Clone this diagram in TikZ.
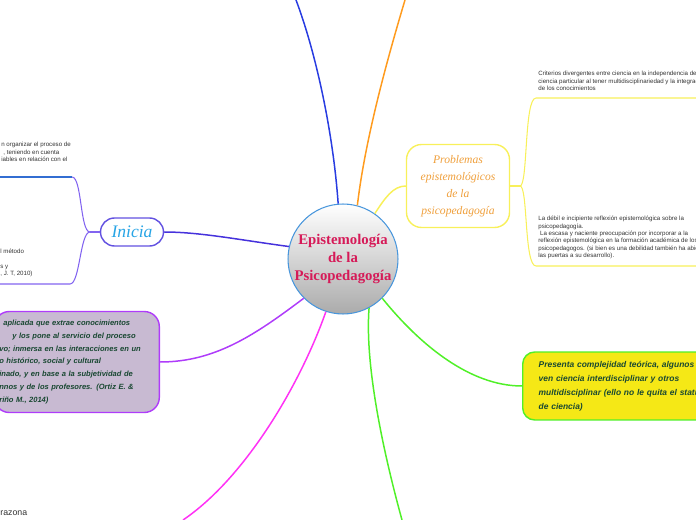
\documentclass[tikz,border=0pt]{standalone}
\usepackage{fontspec}
\setmainfont{Liberation Sans}
\newfontfamily\titlefont{Liberation Serif}
\usepackage{tikz}
\usetikzlibrary{arrows.meta,positioning,shapes.geometric,calc}
\definecolor{TitleRed}{RGB}{214,26,88}
\definecolor{TopicRim}{RGB}{72,150,220}
\definecolor{MapBlue}{RGB}{40,60,225}
\definecolor{MapOrange}{RGB}{255,155,30}
\definecolor{MapYellow}{RGB}{248,240,90}
\definecolor{MapGreen}{RGB}{80,240,40}
\definecolor{MapPink}{RGB}{255,50,245}
\definecolor{MapPurple}{RGB}{175,60,250}
\definecolor{MapIndigo}{RGB}{70,50,220}
\definecolor{MapViolet}{RGB}{130,100,240}
\definecolor{UnderBlue}{RGB}{50,110,210}
\definecolor{SoftLilac}{RGB}{200,186,210}
\definecolor{SoftLemon}{RGB}{245,232,22}
\definecolor{InkGreen}{RGB}{25,72,50}
\definecolor{ProbOrange}{RGB}{240,160,60}
\definecolor{IniciaCyan}{RGB}{40,165,230}
\tikzset{
  topic/.style={circle,draw=TopicRim,line width=0.6pt,top color=white,
    bottom color=black!33,minimum size=2.2cm,inner sep=0pt,align=center,
    text=TitleRed,font=\titlefont\bfseries\fontsize{8.4}{10}\selectfont},
  problembox/.style={draw=MapYellow,line width=0.8pt,rounded corners=0.3cm,
    fill=white,minimum width=2.06cm,minimum height=1.66cm,align=center,
    text=ProbOrange,font=\titlefont\itshape\fontsize{6.6}{9.6}\selectfont},
  iniciabox/.style={draw=MapIndigo!85,line width=0.8pt,rounded corners=0.28cm,
    fill=white,minimum width=1.26cm,minimum height=0.56cm,
    text=IniciaCyan,font=\titlefont\itshape\fontsize{10}{12}\selectfont},
  defbox/.style={draw=MapPurple,line width=0.8pt,rounded corners=0.3cm,
    fill=SoftLilac,text width=3.1cm,inner xsep=0.1cm,minimum height=2.02cm,
    align=left,text=InkGreen,font=\bfseries\itshape\fontsize{4.3}{7.3}\selectfont},
  complejbox/.style={draw=MapGreen,line width=0.8pt,rounded corners=0.24cm,
    fill=SoftLemon,text width=5cm,inner xsep=0.32cm,minimum height=1.36cm,
    align=left,text=InkGreen,font=\bfseries\itshape\fontsize{4.8}{8}\selectfont},
  note/.style={anchor=north west,inner sep=0pt,align=left,text=black!80,
    font=\fontsize{3.5}{4.15}\selectfont},
  branch/.style={line width=0.85pt},
  twig/.style={line width=0.6pt}
}
\begin{document}
\begin{tikzpicture}[x=0.02cm,y=-0.02cm]
\useasboundingbox (0,0) rectangle (696,520);
\clip (0,0) rectangle (696,520);

\node[topic] (centro) at (343,259) {Epistemología\\de la\\Psicopedagogía};
\node[problembox] (probl) at (458,186) {Problemas\\epistemológicos\\de la\\psicopedagogía};
\node[iniciabox] (inicia) at (132,232) {Inicia};
\node[defbox,anchor=east] (defin) at (160,362) {\hspace*{2.3pt}aplicada que extrae conocimientos\\
  \hspace*{7.4pt}y los pone al servicio del proceso\\
  vo; inmersa en las interacciones en un\\
  o histórico, social y cultural\\
  inado, y en base a la subjetividad de\\
  nnos y de los profesores. (Ortiz E. \&\\
  riño M., 2014)};
\node[complejbox,anchor=west] (complej) at (522,386) {Presenta complejidad teórica, algunos lo\\
  ven ciencia interdisciplinar y otros\\
  multidisciplinar (ello no le quita el status\\
  de ciencia)};

\node[note] (criterios) at (538,71) {Criterios divergentes entre ciencia en la independencia de\\
  ciencia particular al tener multidisciplinariedad y la integración\\
  de los conocimientos};
\node[note] (debil) at (538,216) {La débil e incipiente reflexión epistemológica sobre la\\
  psicopedagogía.\\
  \hspace*{1pt}La escasa y naciente preocupación por incorporar a la\\
  reflexión epistemológica en la formación académica de los\\
  psicopedagogos. (si bien es una debilidad también ha abierto\\
  las puertas a su desarrollo).};
\node[note] (organiza) at (1,142) {n organizar el proceso de\\
  \hspace*{1.2pt}, teniendo en cuenta\\
  iables en relación con el};
\node[note] (metodo) at (0,249) {l método\\[4.2pt]
  s y\\
  , J. T, 2010)};
\node[note,anchor=west,font=\fontsize{5}{6}\selectfont] (razona) at (0,513) {razona};

\coordinate (topblue) at (296,0);
\coordinate (toporange) at (405,0);
\coordinate (downgreen) at (402,520);
\coordinate (downpink) at (183,520);
\coordinate (pj) at (520,186);
\coordinate (ij) at (90,232);
\coordinate (orgline) at (72,177);
\coordinate (orgend) at (0,177);
\coordinate (metline) at (70,284);
\coordinate (metend) at (0,284);
\coordinate (critline) at (536,98);
\coordinate (critend) at (696,98);
\coordinate (debline) at (536,266);
\coordinate (debend) at (696,266);

\draw[branch,MapBlue] (centro.95) .. controls (333,130) and (315,50) .. (topblue);
\draw[branch,MapOrange] (centro.75) .. controls (365,140) and (387,60) .. (toporange);
\draw[branch,MapYellow] (centro.55) .. controls (385,198) and (393,186) .. (probl.west);
\draw[branch,MapGreen] (centro.-45) .. controls (420,345) and (470,386) .. (complej.west);
\draw[branch,MapGreen] (centro.-62) .. controls (365,360) and (380,440) .. (downgreen);
\draw[branch,MapPink] (centro.-108) .. controls (300,385) and (245,478) .. (downpink);
\draw[branch,MapPurple] (centro.225) .. controls (255,335) and (215,362) .. (defin.east);
\draw[branch,MapIndigo] (centro.167) .. controls (240,240) and (200,232) .. (inicia.east);

\draw[twig,MapYellow] (probl.east) -- (pj);
\draw[twig,MapYellow] (pj) .. controls (528,186) and (524,98) .. (critline) -- (critend);
\draw[twig,MapYellow] (pj) .. controls (528,186) and (524,266) .. (debline) -- (debend);

\draw[twig,MapViolet] (inicia.west) -- (ij);
\draw[twig,MapViolet] (ij) .. controls (80,232) and (82,177) .. (orgline);
\draw[twig,UnderBlue] (orgline) -- (orgend);
\draw[twig,MapViolet] (ij) .. controls (80,232) and (80,284) .. (metline) -- (metend);
\end{tikzpicture}
\end{document}
